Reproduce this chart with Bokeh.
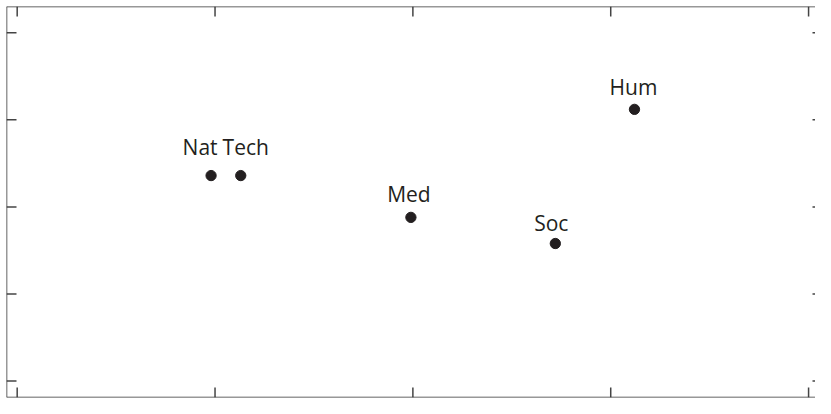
import math
from bokeh.plotting import figure
from bokeh.models import ColumnDataSource, Range1d, Span
from bokeh.embed import file_html
from bokeh.resources import INLINE
from bokeh.core.properties import value

# data
fields = ["Nat", "Tech", "Med", "Soc", "Hum"]
x_vals = [0.98, 1.13, 1.99, 2.72, 3.12]
y_vals = [2.36, 2.36, 1.88, 1.58, 3.12]
x_ticks = [0, 1, 2, 3, 4]
y_ticks = [0, 1, 2, 3, 4]

# label placement (pixels)
label_dx = [-11, 5, -2, -4, -1]
label_dy = [-29, -29, -23, -21, -22]

x0, x1 = -0.054, 4.035
y0, y1 = -0.188, 4.301

src = ColumnDataSource(dict(x=x_vals, y=y_vals, name=fields, dx=label_dx, dy=label_dy))

p = figure(frame_width=809, frame_height=391, output_backend="svg", toolbar_location=None,
           x_range=Range1d(x0, x1), y_range=Range1d(y0, y1),
           x_axis_location=None, y_axis_location=None,
           min_border_left=6, min_border_top=6, min_border_right=0, min_border_bottom=1)
p.background_fill_color = "white"
p.border_fill_color = "white"
p.grid.visible = False
p.outline_line_color = None

frame_col = "#333333"
for loc, dim in [(x0, "height"), (y0, "width"), (y1, "width")]:
    p.add_layout(Span(location=loc, dimension=dim, line_color=frame_col, line_width=1.5))

tick_col = "#444444"
p.ray(x=x_ticks, y=[y0] * len(x_ticks), length=10, length_units="screen",
      angle=math.pi / 2, line_color=tick_col, line_width=1.5)
p.ray(x=x_ticks, y=[y1] * len(x_ticks), length=10, length_units="screen",
      angle=-math.pi / 2, line_color=tick_col, line_width=1.5)
p.ray(x=[x0] * len(y_ticks), y=y_ticks, length=10, length_units="screen",
      angle=0, line_color=tick_col, line_width=1.5)
p.ray(x=[x1] * len(y_ticks), y=y_ticks, length=3, length_units="screen",
      angle=math.pi, line_color=tick_col, line_width=1.5)

p.scatter("x", "y", source=src, size=10.3, color="#231f20")
p.text("x", "y", text="name", source=src, x_offset="dx", y_offset="dy",
       text_align="center", text_baseline="alphabetic",
       text_font=value("Open Sans"), text_font_size="21px", text_color="#231f20")

open("out.html", "w").write(file_html(p, INLINE))
